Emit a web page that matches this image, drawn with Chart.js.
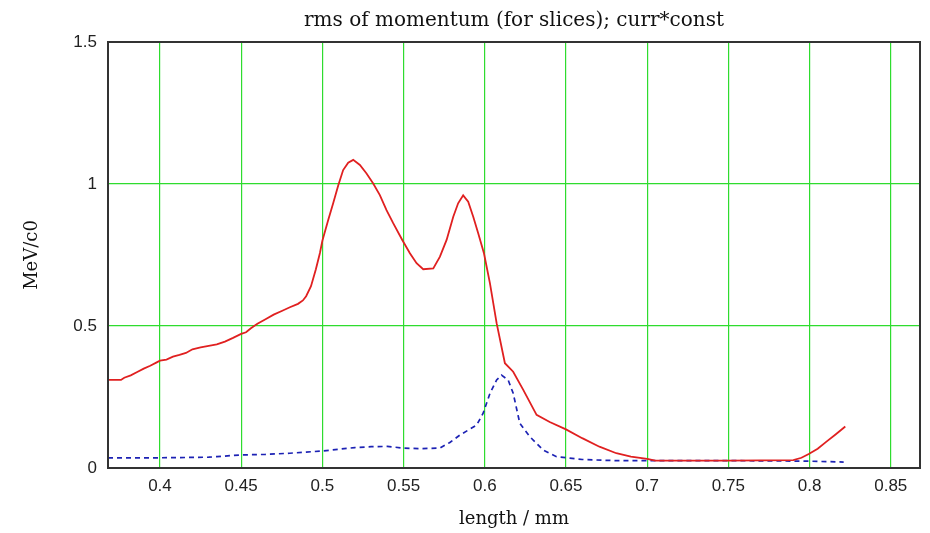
<!DOCTYPE html>
<html>
<head>
<meta charset="utf-8">
<script src="https://cdn.jsdelivr.net/npm/chart.js@4/dist/chart.umd.min.js"></script>
<style>
  html, body { margin: 0; padding: 0; background: #ffffff; }
  #wrap { width: 930px; height: 533px; position: relative; }
</style>
</head>
<body>
<div id="wrap"><canvas id="c" width="930" height="533"></canvas></div>
<script>
// rms momentum spread per slice (MeV/c0) along the bunch
const rmsLength = [
  0.368, 0.372, 0.376, 0.378, 0.382, 0.386, 0.390, 0.394, 0.398, 0.400,
  0.404, 0.408, 0.412, 0.416, 0.420, 0.425, 0.430, 0.435, 0.440, 0.445,
  0.450, 0.453, 0.456, 0.460, 0.465, 0.470, 0.475, 0.480, 0.485, 0.488,
  0.490, 0.493, 0.496, 0.4985, 0.500, 0.5036, 0.5067, 0.5098, 0.5128, 0.5159,
  0.519, 0.5231, 0.5272, 0.5313, 0.5354, 0.5395, 0.5436, 0.5492, 0.5539, 0.558,
  0.5621, 0.5683, 0.5724, 0.5765, 0.5806, 0.5836, 0.5867, 0.5898, 0.5929, 0.596,
  0.5995, 0.6032, 0.6073, 0.6124, 0.6175, 0.6237, 0.6319, 0.640, 0.650, 0.660,
  0.6706, 0.681, 0.690, 0.700, 0.705, 0.750, 0.790, 0.795, 0.7995, 0.805,
  0.8104, 0.816, 0.822
];
const rmsMomentum = [
  0.310, 0.310, 0.310, 0.318, 0.326, 0.338, 0.350, 0.360, 0.372, 0.378,
  0.382, 0.392, 0.398, 0.405, 0.418, 0.425, 0.430, 0.435, 0.445, 0.458,
  0.472, 0.478, 0.492, 0.508, 0.524, 0.540, 0.553, 0.566, 0.578, 0.590,
  0.605, 0.640, 0.700, 0.757, 0.800, 0.873, 0.933, 0.996, 1.049, 1.075,
  1.085, 1.067, 1.037, 1.002, 0.961, 0.908, 0.862, 0.803, 0.756, 0.721,
  0.700, 0.703, 0.744, 0.803, 0.885, 0.932, 0.960, 0.938, 0.885, 0.826,
  0.756, 0.650, 0.510, 0.369, 0.339, 0.275, 0.187, 0.162, 0.136, 0.105,
  0.075, 0.052, 0.040, 0.032, 0.026, 0.026, 0.028, 0.036, 0.049, 0.068,
  0.093, 0.118, 0.146
];

// slice current scaled by a constant
const currLength = [
  0.368, 0.372, 0.400, 0.430, 0.435, 0.450, 0.465, 0.480, 0.490, 0.500,
  0.510, 0.520, 0.530, 0.540, 0.550, 0.560, 0.5724, 0.5785, 0.5847, 0.595,
  0.599, 0.6032, 0.6073, 0.6103, 0.6144, 0.6175, 0.6216, 0.6278, 0.636, 0.6442,
  0.660, 0.680, 0.700, 0.750, 0.800, 0.821
];
const currScaled = [
  0.036, 0.036, 0.036, 0.038, 0.040, 0.046, 0.048, 0.052, 0.056, 0.060,
  0.066, 0.072, 0.075, 0.076, 0.070, 0.068, 0.070, 0.090, 0.116, 0.151,
  0.193, 0.263, 0.310, 0.327, 0.310, 0.263, 0.157, 0.110, 0.063, 0.040,
  0.030, 0.026, 0.026, 0.026, 0.024, 0.021
];

const xTicks = [0.4, 0.45, 0.5, 0.55, 0.6, 0.65, 0.7, 0.75, 0.8, 0.85];
const yTicks = [0, 0.5, 1, 1.5];

const chartTitle = 'rms of momentum (for slices); curr*const';

const toPoints = (xs, ys) => xs.map((x, i) => ({ x: x, y: ys[i] }));

const serif = '"DejaVu Serif", "Liberation Serif", serif';
const sans = '"Liberation Sans", Arial, sans-serif';

// title centred over the plot, plus the black frame around it
const framePlugin = {
  id: 'frameAndTitle',
  afterDraw(chart) {
    const { ctx, chartArea: a } = chart;
    ctx.save();
    ctx.strokeStyle = '#333333';
    ctx.lineWidth = 2;
    ctx.strokeRect(a.left, a.top, a.right - a.left, a.bottom - a.top);
    ctx.fillStyle = '#111111';
    ctx.font = '20px ' + serif;
    ctx.textAlign = 'center';
    ctx.textBaseline = 'middle';
    ctx.fillText(chartTitle, (a.left + a.right) / 2, 21);
    ctx.restore();
  }
};

new Chart(document.getElementById('c'), {
  type: 'line',
  data: {
    datasets: [
      {
        label: 'rms momentum',
        data: toPoints(rmsLength, rmsMomentum),
        borderColor: '#e02020',
        borderWidth: 1.8,
        pointRadius: 0,
        tension: 0,
        fill: false
      },
      {
        label: 'curr*const',
        data: toPoints(currLength, currScaled),
        borderColor: '#1c22b4',
        borderWidth: 1.7,
        borderDash: [5, 4],
        pointRadius: 0,
        tension: 0,
        fill: false
      }
    ]
  },
  options: {
    responsive: false,
    animation: false,
    layout: { padding: { top: 42, right: 10, bottom: 0, left: 0 } },
    plugins: {
      legend: { display: false },
      title: { display: false },
      tooltip: { enabled: false }
    },
    scales: {
      x: {
        type: 'linear',
        min: 0.368,
        max: 0.868,
        afterBuildTicks: s => { s.ticks = xTicks.map(v => ({ value: v })); },
        afterFit: s => { s.height = 65; },
        grid: { color: '#2edc2e', lineWidth: 1.2, drawTicks: false },
        border: { display: false },
        ticks: {
          padding: 8,
          color: '#222222',
          font: { family: sans, size: 17 },
          callback: v => String(v)
        },
        title: {
          display: true,
          text: 'length / mm',
          color: '#111111',
          font: { family: serif, size: 18 },
          padding: { top: 0, bottom: 3 }
        }
      },
      y: {
        type: 'linear',
        min: 0,
        max: 1.5,
        afterBuildTicks: s => { s.ticks = yTicks.map(v => ({ value: v })); },
        afterFit: s => { s.width = 108; },
        grid: { color: '#2edc2e', lineWidth: 1.2, drawTicks: false },
        border: { display: false },
        ticks: {
          padding: 11,
          color: '#222222',
          font: { family: sans, size: 17 },
          callback: v => String(v)
        },
        title: {
          display: true,
          text: 'MeV/c0',
          color: '#111111',
          font: { family: serif, size: 18 },
          padding: { top: 22, bottom: 0 }
        }
      }
    }
  },
  plugins: [framePlugin]
});
</script>
</body>
</html>
